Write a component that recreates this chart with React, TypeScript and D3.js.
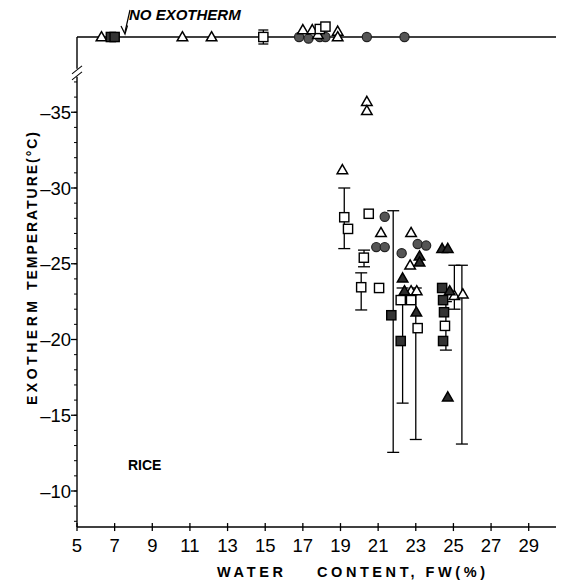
import React from 'react';
import * as d3 from 'd3';

// water content (%) / exotherm temperature (°C)
const openTriangles = [
  [19.1, -31.2], [20.4, -35.7], [20.4, -35.1], [21.15, -27.05], [22.75, -27.05],
  [22.7, -24.9], [22.75, -23.2], [23.05, -23.2], [25.05, -22.9], [25.5, -23.0],
];
const filledTriangles = [
  [23.2, -25.5], [23.2, -25.1], [24.4, -26.0], [24.7, -26.0], [22.3, -24.05],
  [22.4, -23.2], [23.03, -21.8], [24.8, -23.2], [24.7, -16.2],
];
const openSquares = [
  [19.2, -28.07], [19.4, -27.3], [20.5, -28.3], [20.24, -25.4], [20.1, -23.45],
  [21.05, -23.4], [22.2, -22.6], [22.75, -22.6], [23.1, -20.75], [24.55, -20.9],
];
const filledSquares = [
  [21.7, -21.6], [22.2, -19.9], [24.4, -23.4], [24.45, -22.6], [24.5, -21.8], [24.45, -19.9],
];
const filledCircles = [
  [21.35, -28.1], [20.9, -26.1], [21.35, -26.1], [22.25, -25.7], [23.1, -26.3], [23.55, -26.2],
];
// [x, low, high]
const errorBars = [
  [19.2, -30.0, -26.0], [20.25, -25.9, -24.8], [20.1, -24.4, -21.95], [21.8, -28.5, -12.55],
  [22.3, -23.4, -15.8], [23.0, -23.4, -13.4], [25.05, -24.9, -22.0], [25.45, -24.9, -13.1],
  [24.6, -22.5, -19.3],
];
// samples with no exotherm: [symbol, x, stack level]
const noExotherm: [string, number, number][] = [
  ['tri', 6.3, 0], ['fsq', 6.8, 0], ['fsq', 7.0, 0], ['tri', 10.6, 0], ['tri', 12.15, 0],
  ['sq', 14.9, 0], ['circ', 16.8, 0], ['circ', 17.3, -0.2], ['circ', 17.9, 0], ['circ', 18.2, 0],
  ['tri', 17.0, 0.9], ['tri', 17.5, 0.9], ['tri', 17.8, 0.3], ['sq', 17.9, 1.0], ['sq', 18.2, 1.3],
  ['tri', 18.85, 0.7], ['tri', 18.85, 0], ['circ', 20.4, 0], ['circ', 22.4, 0],
];
const xTicks = [5, 7, 9, 11, 13, 15, 17, 19, 21, 23, 25, 27, 29];
const yTicks = [-35, -30, -25, -20, -15, -10];

const x = d3.scaleLinear().domain([5, 30.45]).range([77, 556]);
const y = d3.scaleLinear().domain([-10, -30]).range([491, 188]);
const yBottom = -7.62;
const yBreak = -37.6;
const topY = 37;

const sym = (kind: string, cx: number, cy: number, key: string) => {
  const r = 4.6;
  if (kind === 'tri' || kind === 'ftri') {
    const p = d3.symbol().type(d3.symbolTriangle).size(48)();
    return <path key={key} d={p!} transform={`translate(${cx},${cy + 0.8})`}
      fill={kind === 'tri' ? '#fff' : '#2a2a2a'} stroke="#000" strokeWidth={1.5} />;
  }
  if (kind === 'sq' || kind === 'fsq') {
    return <rect key={key} x={cx - r} y={cy - r} width={2 * r} height={2 * r}
      fill={kind === 'sq' ? '#fff' : '#333'} stroke="#000" strokeWidth={1.4} />;
  }
  return <circle key={key} cx={cx} cy={cy} r={r} fill="#555" stroke="#222" strokeWidth={1.2} />;
};

export default function App() {
  const minor = d3.range(-37, -7, 1);
  const font = "'Liberation Sans', sans-serif";
  const bold = "'Liberation Sans', sans-serif";
  return (
    <svg width={561} height={584} style={{ position: 'absolute', left: 0, top: 0, background: '#fff' }}>
      {/* frame */}
      <line x1={x(5)} x2={556} y1={topY} y2={topY} stroke="#000" strokeWidth={1.4} />
      <line x1={x(5)} x2={556} y1={y(yBottom)} y2={y(yBottom)} stroke="#000" strokeWidth={1.4} />
      <line x1={x(5)} x2={x(5)} y1={topY} y2={y(yBreak) - 4} stroke="#000" strokeWidth={1.4} />
      <line x1={x(5)} x2={x(5)} y1={y(yBreak) + 4} y2={y(yBottom)} stroke="#000" strokeWidth={1.4} />
      <line x1={x(5) - 5} x2={x(5) + 5} y1={y(yBreak) + 1} y2={y(yBreak) - 7} stroke="#000" strokeWidth={1.1} />
      <line x1={x(5) - 5} x2={x(5) + 5} y1={y(yBreak) + 7} y2={y(yBreak) - 1} stroke="#000" strokeWidth={1.1} />

      {minor.map(v => (
        <line key={'m' + v} x1={x(5) - 3} x2={x(5)} y1={y(v)} y2={y(v)} stroke="#000" strokeWidth={1} />
      ))}
      {yTicks.map(v => (
        <g key={'y' + v}>
          <line x1={x(5) - 6} x2={x(5)} y1={y(v)} y2={y(v)} stroke="#000" strokeWidth={1.3} />
          <text x={x(5) - 6} y={y(v) + 6.5} textAnchor="end" fontFamily={font} fontSize={18.5}>
            {'\u2013' + Math.abs(v)}
          </text>
        </g>
      ))}
      {xTicks.map(v => (
        <g key={'x' + v}>
          <line x1={x(v)} x2={x(v)} y1={y(yBottom) - 4} y2={y(yBottom) + 4} stroke="#000" strokeWidth={1.3} />
          <text x={x(v)} y={y(yBottom) + 25} textAnchor="middle" fontFamily={font} fontSize={18.5}>{v}</text>
        </g>
      ))}

      <text transform="translate(37,405) rotate(-90)" fontFamily={bold} fontWeight="bold" fontSize={14}
        textLength={104} lengthAdjust="spacing">EXOTHERM</text>
      <text transform="translate(37,290) rotate(-90)" fontFamily={bold} fontWeight="bold" fontSize={14}
        textLength={158} lengthAdjust="spacing">TEMPERATURE(°C)</text>
      <text x={217} y={577} fontFamily={bold} fontWeight="bold" fontSize={14.5}
        textLength={66} lengthAdjust="spacing">WATER</text>
      <text x={317} y={577} fontFamily={bold} fontWeight="bold" fontSize={14.5}
        textLength={168} lengthAdjust="spacing">CONTENT, FW(%)</text>
      <text x={128} y={470} fontFamily={bold} fontWeight="bold" fontSize={14}>RICE</text>
      <text x={129} y={20} fontFamily={bold} fontWeight="bold" fontStyle="italic" fontSize={15}>
        NO EXOTHERM
      </text>
      <line x1={130} x2={125} y1={10} y2={32} stroke="#000" strokeWidth={1.2} />
      <path d="M121,26 L125,34 L127.5,25.5" fill="none" stroke="#000" strokeWidth={1.2} />

      {/* error bars */}
      {errorBars.map(([bx, lo, hi], i) => (
        <g key={'e' + i} stroke="#000" strokeWidth={1.3}>
          <line x1={x(bx)} x2={x(bx)} y1={y(lo)} y2={y(hi)} />
          <line x1={x(bx) - 6} x2={x(bx) + 6} y1={y(lo)} y2={y(lo)} />
          <line x1={x(bx) - 6} x2={x(bx) + 6} y1={y(hi)} y2={y(hi)} />
        </g>
      ))}
      {/* no-exotherm bar */}
      <g stroke="#000" strokeWidth={1.3}>
        <line x1={x(14.9)} x2={x(14.9)} y1={topY - 7} y2={topY + 7} />
        <line x1={x(14.9) - 5} x2={x(14.9) + 5} y1={topY - 7} y2={topY - 7} />
        <line x1={x(14.9) - 5} x2={x(14.9) + 5} y1={topY + 7} y2={topY + 7} />
      </g>

      {openSquares.map((d, i) => sym('sq', x(d[0]), y(d[1]), 'os' + i))}
      {filledSquares.map((d, i) => sym('fsq', x(d[0]), y(d[1]), 'fs' + i))}
      {filledCircles.map((d, i) => sym('circ', x(d[0]), y(d[1]), 'fc' + i))}
      {openTriangles.map((d, i) => sym('tri', x(d[0]), y(d[1]), 'ot' + i))}
      {filledTriangles.map((d, i) => sym('ftri', x(d[0]), y(d[1]), 'ft' + i))}

      {noExotherm.map(([k, v, lvl], i) => sym(k, x(v), topY - lvl * 8, 'n' + i))}
    </svg>
  );
}
